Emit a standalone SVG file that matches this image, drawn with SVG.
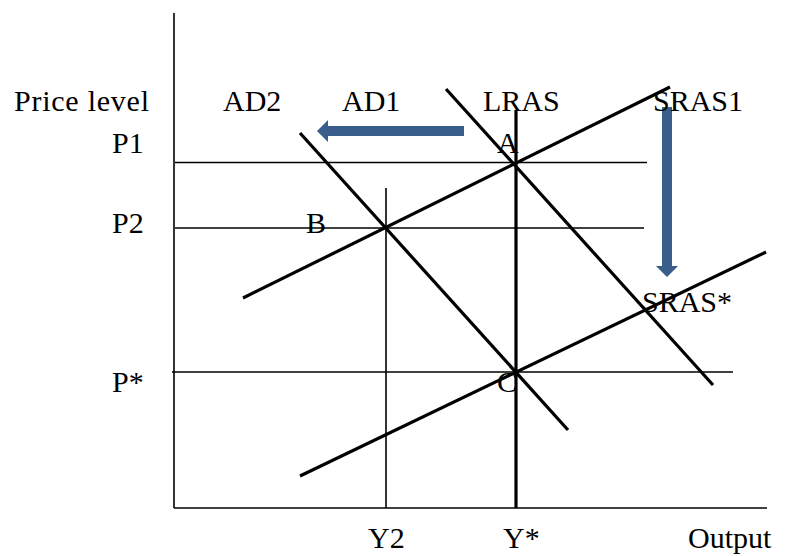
<svg xmlns="http://www.w3.org/2000/svg" width="786" height="556" viewBox="0 0 786 556">
<style>
text{font-family:"Liberation Serif","Times New Roman",serif;font-size:30px;fill:#000}
.thin{stroke:#000;stroke-width:1.6;fill:none}
.thick{stroke:#000;stroke-width:3.2;fill:none}
.arrow{fill:#3A5E8C}
</style>
<rect width="786" height="556" fill="#fff"/>
<g id="axes">
<line class="thin" x1="174" y1="13" x2="174" y2="508"/>
<line class="thin" x1="174" y1="508" x2="767" y2="508"/>
</g>
<g id="guides">
<line class="thin" x1="175" y1="162.5" x2="647" y2="162.5"/>
<line class="thin" x1="175" y1="228" x2="644" y2="228"/>
<line class="thin" x1="172" y1="372" x2="733" y2="372"/>
<line class="thin" x1="386" y1="188" x2="386" y2="508"/>
</g>
<g id="curves">
<line id="LRAS" class="thick" x1="516" y1="110" x2="516" y2="508"/>
<line id="SRAS1" class="thick" x1="243" y1="298" x2="670" y2="87"/>
<line id="SRASstar" class="thick" x1="300" y1="476" x2="766" y2="252"/>
<line id="AD2" class="thick" x1="300" y1="133" x2="568" y2="430"/>
<line id="AD1" class="thick" x1="446" y1="89" x2="713" y2="385"/>
</g>
<g id="arrows">
<polygon class="arrow" points="464,126 328,126 328,120 317,131 328,142 328,136 464,136"/>
<polygon class="arrow" points="662,107 672,107 672,266 678,266 667,277 656,266 662,266"/>
</g>
<g id="labels">
<text x="14" y="111" textLength="135">Price level</text>
<text x="112" y="153">P1</text>
<text x="112" y="233">P2</text>
<text x="112" y="392">P*</text>
<text x="223" y="111">AD2</text>
<text x="342" y="111">AD1</text>
<text x="483" y="111">LRAS</text>
<text x="653" y="111">SRAS1</text>
<text x="497" y="153">A</text>
<text x="306" y="233">B</text>
<text x="497" y="392">C</text>
<text x="642" y="312">SRAS*</text>
<text x="368" y="548">Y2</text>
<text x="503" y="548">Y*</text>
<text x="688" y="548">Output</text>
</g>
</svg>
